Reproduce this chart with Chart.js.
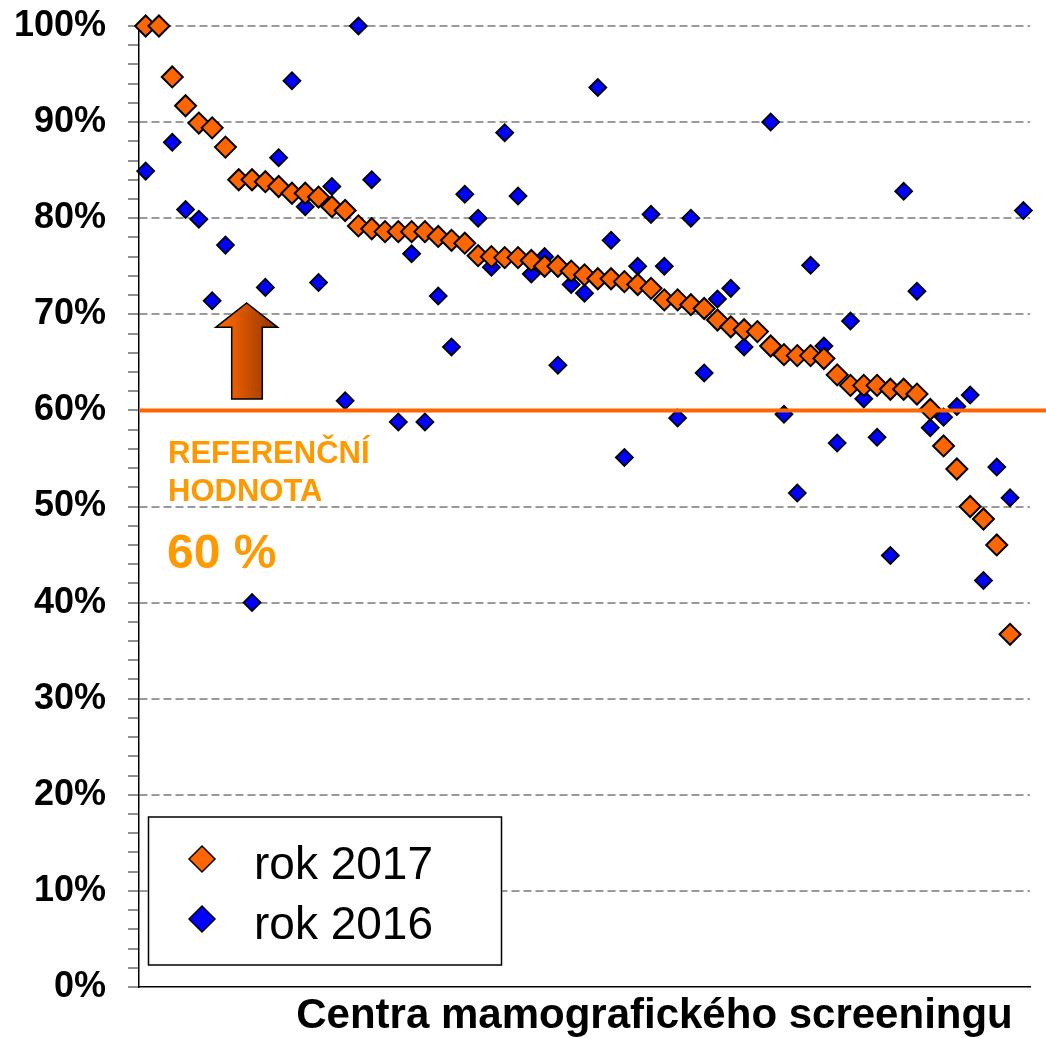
<!DOCTYPE html>
<html>
<head>
<meta charset="utf-8">
<script src="https://cdn.jsdelivr.net/npm/chart.js@4.4.0/dist/chart.umd.min.js"></script>
<style>
  body { margin: 0; background: #fff; }
  canvas { display: block; }
</style>
</head>
<body>
<canvas id="myChart" width="1046" height="1038"></canvas>
<script>
// centra 1..67 (sorted by 2017 result)
var centra = [];
for (var i = 1; i <= 67; i++) centra.push(String(i));

var rok2017 = [100, 100, 94.7, 91.7, 89.9, 89.4, 87.4, 84.0, 84.0, 83.8,
    83.3, 82.6, 82.6, 82.2, 81.2, 80.8, 79.2, 78.9, 78.6, 78.6,
    78.6, 78.6, 78.1, 77.7, 77.4, 76.1, 76.0, 75.9, 75.9, 75.6,
    75.0, 75.0, 74.5, 74.1, 73.7, 73.7, 73.4, 73.1, 72.7, 71.5,
    71.5, 71.0, 70.6, 69.4, 68.7, 68.4, 68.2, 66.7, 65.8, 65.7,
    65.7, 65.4, 63.7, 62.6, 62.6, 62.6, 62.2, 62.2, 61.7, 60.1,
    56.3, 53.9, 50.0, 48.7, 46.0, 36.7, null];

var rok2016 = [84.9, null, 87.9, 80.9, 79.9, 71.4, 77.2, null, 40.0, 72.8,
    86.3, 94.3, 81.2, 73.3, 83.3, 61.0, 100, 84.0, null, 58.8,
    76.3, 58.8, 71.9, 66.6, 82.5, 80.0, 74.9, 88.9, 82.3, 74.2,
    76.0, 64.7, 73.1, 72.2, 93.6, 77.7, 55.1, 75.0, 80.4, 75.0,
    59.2, 80.0, 63.9, 71.6, 72.7, 66.6, null, 90.0, 59.6, 51.4,
    75.1, 66.7, 56.6, 69.3, 61.2, 57.2, 44.9, 82.8, 72.4, 58.2,
    59.3, 60.4, 61.6, 42.3, 54.1, 50.9, 80.8];

var seriesNames = ["rok 2017", "rok 2016"];
var seriesColors = ["#FF6600", "#0000FF"];
var referenceValue = 60;

var FONT = "'Liberation Sans', Arial, sans-serif";

// reference line, arrow, notes, legend, axis title
var extras = {
    id: "extras",
    afterDraw: function (chart) {
        var ctx = chart.ctx;
        var area = chart.chartArea;
        var y = chart.scales.y;
        ctx.save();

        // reference line
        var ry = y.getPixelForValue(referenceValue);
        ctx.strokeStyle = "#FF6600";
        ctx.lineWidth = 4;
        ctx.beginPath();
        ctx.moveTo(area.left, ry);
        ctx.lineTo(chart.width, ry);
        ctx.stroke();

        // arrow
        var grad = ctx.createLinearGradient(216, 0, 278, 0);
        grad.addColorStop(0, "#FF6A00");
        grad.addColorStop(0.3, "#E65C00");
        grad.addColorStop(1, "#8B3300");
        ctx.fillStyle = grad;
        ctx.strokeStyle = "#000";
        ctx.lineWidth = 1.5;
        ctx.beginPath();
        ctx.moveTo(246.7, 303);
        ctx.lineTo(277.7, 327.3);
        ctx.lineTo(262.3, 327.3);
        ctx.lineTo(262.3, 399);
        ctx.lineTo(231.7, 399);
        ctx.lineTo(231.7, 327.3);
        ctx.lineTo(215.7, 327.3);
        ctx.closePath();
        ctx.fill();
        ctx.stroke();

        // note
        ctx.fillStyle = "#FF9900";
        ctx.textAlign = "left";
        ctx.textBaseline = "alphabetic";
        ctx.font = "bold 31px " + FONT;
        ctx.fillText("REFERENČNÍ", 168, 463);
        ctx.fillText("HODNOTA", 168, 501);
        ctx.font = "bold 48px " + FONT;
        ctx.fillText("60 %", 167, 568);

        // legend
        ctx.fillStyle = "#fff";
        ctx.fillRect(148.5, 817, 353, 148);
        ctx.strokeStyle = "#000";
        ctx.lineWidth = 1.5;
        ctx.strokeRect(148.5, 817, 353, 148);
        var rows = [859, 919];
        for (var k = 0; k < 2; k++) {
            var cy = rows[k];
            ctx.beginPath();
            ctx.moveTo(189, cy);
            ctx.lineTo(202, cy - 13);
            ctx.lineTo(215, cy);
            ctx.lineTo(202, cy + 13);
            ctx.closePath();
            ctx.fillStyle = seriesColors[k];
            ctx.fill();
            ctx.strokeStyle = "#000";
            ctx.lineWidth = 1.5;
            ctx.stroke();
            ctx.fillStyle = "#000";
            ctx.font = "46px " + FONT;
            ctx.fillText(seriesNames[k], 254, cy + 20);
        }

        // x axis title
        ctx.fillStyle = "#000";
        ctx.font = "bold 42px " + FONT;
        ctx.textAlign = "center";
        ctx.fillText("Centra mamografického screeningu", 654.5, 1028);

        ctx.restore();
    }
};

new Chart("myChart", {
    type: "line",
    data: {
        labels: centra,
        datasets: [{
            label: seriesNames[0],
            data: rok2017,
            showLine: false,
            pointStyle: "rectRot",
            pointRadius: 10.5,
            pointHoverRadius: 10.5,
            pointBackgroundColor: seriesColors[0],
            pointBorderColor: "#000",
            pointBorderWidth: 2,
            clip: false
        }, {
            label: seriesNames[1],
            data: rok2016,
            showLine: false,
            pointStyle: "rectRot",
            pointRadius: 8.5,
            pointHoverRadius: 8.5,
            pointBackgroundColor: seriesColors[1],
            pointBorderColor: "#000",
            pointBorderWidth: 1.8,
            clip: false
        }]
    },
    options: {
        responsive: false,
        animation: false,
        devicePixelRatio: 1,
        layout: { padding: { top: 26, right: 16, left: 0, bottom: 0 } },
        plugins: {
            legend: { display: false },
            tooltip: { enabled: false }
        },
        scales: {
            x: {
                type: "category",
                offset: true,
                grid: { display: false },
                ticks: { display: false },
                border: { display: true, color: "#000", width: 1.5 },
                afterFit: function (s) { s.height = 51; s.paddingLeft = 0; s.paddingRight = 0; }
            },
            y: {
                min: 0,
                max: 100,
                afterFit: function (s) { s.width = 139; s.paddingTop = 0; s.paddingBottom = 0; },
                ticks: {
                    stepSize: 2,
                    autoSkip: false,
                    padding: 22,
                    color: "#000",
                    font: { family: FONT, size: 36, weight: "bold" },
                    callback: function (v) { return v % 10 === 0 ? v + "%" : ""; }
                },
                grid: {
                    color: function (c) {
                        return c.tick && c.tick.value % 10 === 0 && c.tick.value > 0 ? "#9A9A9A" : "rgba(0,0,0,0)";
                    },
                    lineWidth: 2,
                    tickColor: "#222",
                    tickWidth: 1,
                    tickLength: 11
                },
                border: { display: true, color: "#000", width: 1.5, dash: [8, 4] }
            }
        }
    },
    plugins: [extras]
});
</script>
</body>
</html>
